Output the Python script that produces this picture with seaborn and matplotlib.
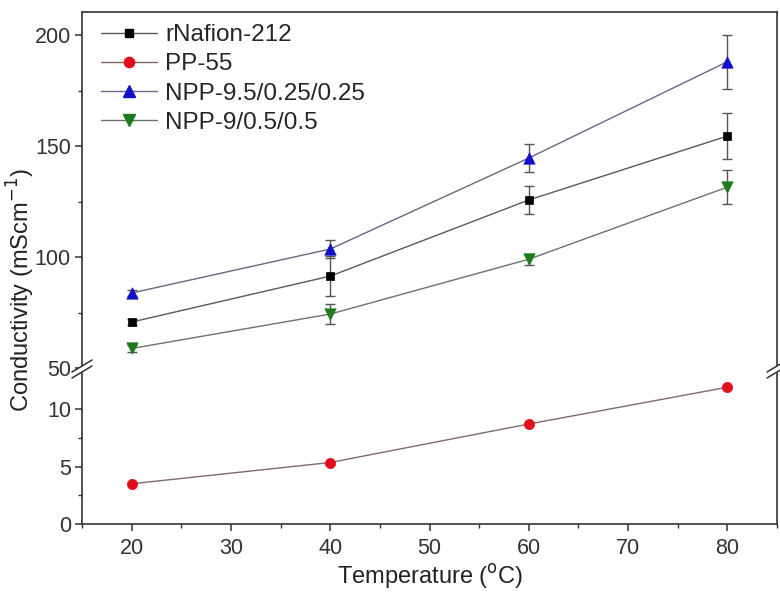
import numpy as np
import pandas as pd
import matplotlib
matplotlib.use("Agg")
import matplotlib.pyplot as plt
from matplotlib.lines import Line2D
from matplotlib.patches import Polygon
import seaborn as sns

# ---- data -------------------------------------------------------------
temperature = [20, 40, 60, 80]
series_names = ["rNafion-212", "PP-55", "NPP-9.5/0.25/0.25", "NPP-9/0.5/0.5"]

nafion = [70.7, 91.4, 125.7, 154.5]
nafion_err = [1.5, 9.0, 6.5, 10.4]
pp55 = [3.5, 5.35, 8.7, 11.9]
pp55_err = [0.0, 0.0, 0.0, 0.0]
npp95 = [83.8, 103.6, 144.6, 188.0]
npp95_err = [1.5, 4.0, 6.5, 12.2]
npp9 = [58.8, 74.3, 99.0, 131.5]
npp9_err = [1.5, 4.5, 2.5, 7.7]

values = {series_names[0]: (nafion, nafion_err),
          series_names[1]: (pp55, pp55_err),
          series_names[2]: (npp95, npp95_err),
          series_names[3]: (npp9, npp9_err)}

x_ticks = [20, 30, 40, 50, 60, 70, 80]
low_ticks = [0, 5, 10]
high_ticks = [50, 100, 150, 200]

# ---- styling ------------------------------------------------------------
marker_colors = {series_names[0]: "#000000", series_names[1]: "#e0101a",
                 series_names[2]: "#1010c8", series_names[3]: "#1d7a1d"}
line_colors = {series_names[0]: "#5a5a5a", series_names[1]: "#7d6a6a",
               series_names[2]: "#68687e", series_names[3]: "#687568"}
markers = {series_names[0]: "s", series_names[1]: "o",
           series_names[2]: "^", series_names[3]: "v"}
msizes = {series_names[0]: 6.2, series_names[1]: 7.4,
          series_names[2]: 8.2, series_names[3]: 8.2}

sns.set_theme(style="ticks")
plt.rcParams["font.family"] = ["Liberation Sans", "DejaVu Sans"]
plt.rcParams["axes.edgecolor"] = "#333333"
plt.rcParams["axes.linewidth"] = 1.2
plt.rcParams["xtick.color"] = "#333333"
plt.rcParams["ytick.color"] = "#333333"
plt.rcParams["xtick.labelcolor"] = "#333333"
plt.rcParams["ytick.labelcolor"] = "#333333"

W, H = 780, 592
fig = plt.figure(figsize=(W / 100, H / 100), dpi=100)

left_px, right_px = 82, 777
top_px, break_px, bottom_px = 12, 370, 524


def fx(px):
    return px / W


def fy(py):
    return 1 - py / H


ax_hi = fig.add_axes([fx(left_px), fy(break_px), fx(right_px - left_px),
                      (break_px - top_px) / H])
ax_lo = fig.add_axes([fx(left_px), fy(bottom_px), fx(right_px - left_px),
                      (bottom_px - break_px) / H])

frame = pd.DataFrame([
    {"Temperature": t, "Conductivity": v, "err": e, "Membrane": name}
    for name, (vals, errs) in values.items()
    for t, v, e in zip(temperature, vals, errs)
])

for ax, names in ((ax_hi, [series_names[0], series_names[2], series_names[3]]),
                  (ax_lo, [series_names[1]])):
    for name in names:
        sub = frame[frame["Membrane"] == name]
        sns.lineplot(data=sub, x="Temperature", y="Conductivity", ax=ax,
                     color=line_colors[name], linewidth=1.0, legend=False,
                     zorder=2)
        if sub["err"].max() > 0:
            ax.errorbar(sub["Temperature"], sub["Conductivity"], yerr=sub["err"],
                        fmt="none", ecolor="#555555", elinewidth=1.0,
                        capsize=3.5, capthick=1.0, zorder=3)
        sns.scatterplot(data=sub, x="Temperature", y="Conductivity", ax=ax,
                        marker=markers[name], color=marker_colors[name],
                        s=msizes[name] ** 2, edgecolor=marker_colors[name],
                        linewidth=0.5, legend=False, zorder=4)

for ax in (ax_hi, ax_lo):
    ax.set_xlim(15, 85)
    ax.set_xlabel("")
    ax.set_ylabel("")
    ax.tick_params(which="major", direction="out", length=5, width=1.1,
                   labelsize=15.5, pad=3)
    ax.tick_params(which="minor", direction="out", length=3, width=1.0)

ax_hi.set_ylim(49.1, 210.4)
ax_hi.set_yticks(high_ticks)
ax_hi.set_yticks([75, 125, 175], minor=True)
ax_hi.set_xticks([])
ax_hi.spines["bottom"].set_visible(False)
ax_hi.tick_params(axis="x", which="both", bottom=False, labelbottom=False)

ax_lo.set_ylim(0, 13.4)
ax_lo.set_yticks(low_ticks)
ax_lo.set_yticks([2.5, 7.5], minor=True)
ax_lo.set_xticks(x_ticks)
ax_lo.set_xticks([15, 25, 35, 45, 55, 65, 75, 85], minor=True)
ax_lo.spines["top"].set_visible(False)
ax_lo.tick_params(axis="x", which="major", pad=5)

# axis break marks on both spines
for xc in (left_px, right_px):
    gap = Polygon([(fx(xc - 9), fy(break_px + 8)), (fx(xc + 9), fy(break_px - 3)),
                   (fx(xc + 9), fy(break_px - 9)), (fx(xc - 9), fy(break_px + 2))],
                  closed=True, transform=fig.transFigure, facecolor="white",
                  edgecolor="none", zorder=10)
    fig.add_artist(gap)
    for off in (0, 6):
        fig.add_artist(Line2D([fx(xc - 10), fx(xc + 10)],
                              [fy(break_px + 8 - off), fy(break_px - 4 - off)],
                              transform=fig.transFigure, color="#333333",
                              linewidth=1.1, zorder=11))

# legend
handles = [Line2D([0], [0], color=line_colors[n], linewidth=1.0, marker=markers[n],
                  markersize=msizes[n], markerfacecolor=marker_colors[n],
                  markeredgecolor=marker_colors[n]) for n in series_names]
ax_hi.legend(handles, series_names, loc="upper left",
             bbox_to_anchor=(fx(84), fy(7)), bbox_transform=fig.transFigure,
             frameon=False, fontsize=17.5, handlelength=2.3, handletextpad=0.35,
             labelspacing=0.3, borderpad=0.2)

fig.text(fx(430), fy(576), "Temperature ($^{\\mathrm{o}}$C)", ha="center",
         va="center", fontsize=17, color="#222222")
fig.text(fx(21), fy(290), "Conductivity (mScm$^{\\mathrm{-1}}$)", ha="center",
         va="center", rotation=90, fontsize=17, color="#222222")

fig.savefig("out.png", dpi=100)
